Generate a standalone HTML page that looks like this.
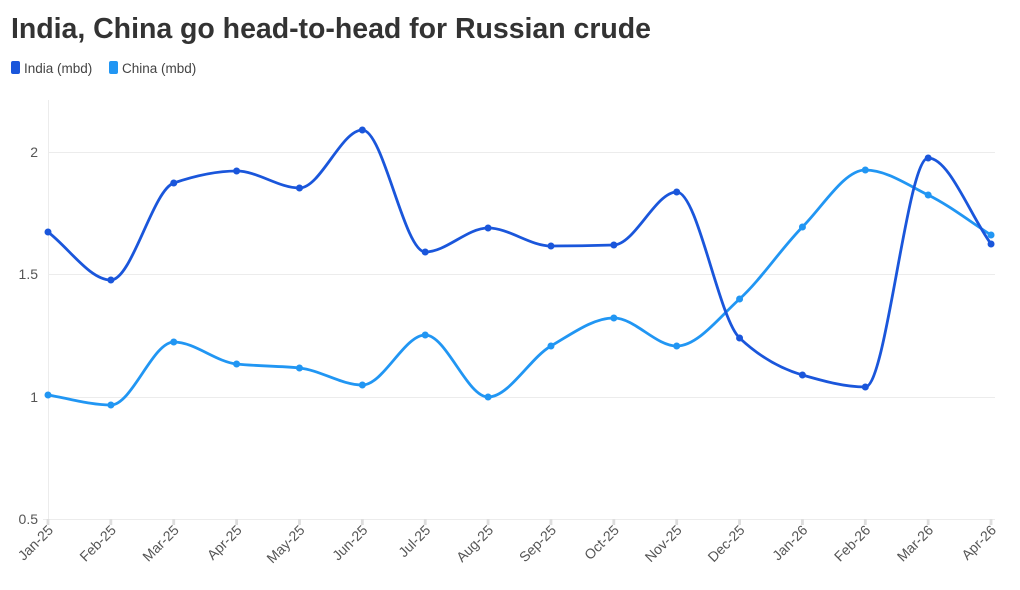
<!DOCTYPE html>
<html><head><meta charset="utf-8"><style>
body{margin:0;background:#fff;width:1020px;height:585px;overflow:hidden;font-family:"Liberation Sans",sans-serif;}
</style></head><body>
<svg id="s" width="1020" height="585" xmlns="http://www.w3.org/2000/svg" font-family="Liberation Sans, sans-serif">
<text x="11" y="38" font-size="28.5" font-weight="bold" fill="#333" textLength="640">India, China go head-to-head for Russian crude</text>
<rect x="11" y="61" width="9" height="13" rx="2" fill="#1a56db"/>
<text x="24" y="73" font-size="13.5" fill="#444">India (mbd)</text>
<rect x="109" y="61" width="9" height="13" rx="2" fill="#2196f3"/>
<text x="122" y="73" font-size="13.5" fill="#444">China (mbd)</text>
<g stroke="#ececec" stroke-width="1">
<line x1="48" y1="152.5" x2="995" y2="152.5"/>
<line x1="48" y1="274.5" x2="995" y2="274.5"/>
<line x1="48" y1="397.5" x2="995" y2="397.5"/>
<line x1="43" y1="519.5" x2="995" y2="519.5"/>
<line x1="48.5" y1="100" x2="48.5" y2="519"/>
</g>
<g font-size="14" fill="#555" text-anchor="end">
<text x="38" y="157">2</text><text x="38" y="279">1.5</text><text x="38" y="402">1</text><text x="38" y="524">0.5</text>
</g>
<g id="xl" font-size="14" fill="#555" text-anchor="end"></g>
<g id="ln" fill="none" stroke-width="2.8"></g>
</svg>
<script>
var xs=[],labs=["Jan-25","Feb-25","Mar-25","Apr-25","May-25","Jun-25","Jul-25","Aug-25","Sep-25","Oct-25","Nov-25","Dec-25","Jan-26","Feb-26","Mar-26","Apr-26"];
for(var i=0;i<16;i++)xs.push(48+i*62.87);
var ind=[232,280,183,171,188,130,252,228,246,245,192,338,375,387,158,244];
var chn=[395,405,342,364,368,385,335,397,346,318,346,299,227,170,195,235];
var ns="http://www.w3.org/2000/svg";
var xl=document.getElementById("xl"),ln=document.getElementById("ln");
labs.forEach(function(l,i){var t=document.createElementNS(ns,"text");t.setAttribute("transform","translate("+(xs[i]+6)+",531) rotate(-45)");t.textContent=l;xl.appendChild(t);
var tk=document.createElementNS(ns,"line");tk.setAttribute("x1",xs[i]);tk.setAttribute("x2",xs[i]);tk.setAttribute("y1",519);tk.setAttribute("y2",525);tk.setAttribute("stroke","#ddd");ln.appendChild(tk);});
function mono(y){var n=y.length,h=62.87,d=[],m=[];for(var i=0;i<n-1;i++)d.push((y[i+1]-y[i])/h);
m[0]=d[0];m[n-1]=d[n-2];
for(i=1;i<n-1;i++){if(d[i-1]*d[i]<=0)m[i]=0;else{var w1=3*h,w2=3*h;m[i]=(w1+w2)/(w1/d[i-1]+w2/d[i]);}}
var p="M"+xs[0]+","+y[0];for(i=0;i<n-1;i++){p+=" C"+(xs[i]+h/3)+","+(y[i]+m[i]*h/3)+" "+(xs[i+1]-h/3)+","+(y[i+1]-m[i+1]*h/3)+" "+xs[i+1]+","+y[i+1];}return p;}
function draw(y,c){var p=document.createElementNS(ns,"path");p.setAttribute("d",mono(y));p.setAttribute("stroke",c);ln.appendChild(p);
y.forEach(function(v,i){var ci=document.createElementNS(ns,"circle");ci.setAttribute("cx",xs[i]);ci.setAttribute("cy",v);ci.setAttribute("r",3.5);ci.setAttribute("fill",c);ci.setAttribute("stroke","none");ln.appendChild(ci);});}
draw(chn,"#2196f3");draw(ind,"#1a56db");
</script>
</body></html>
